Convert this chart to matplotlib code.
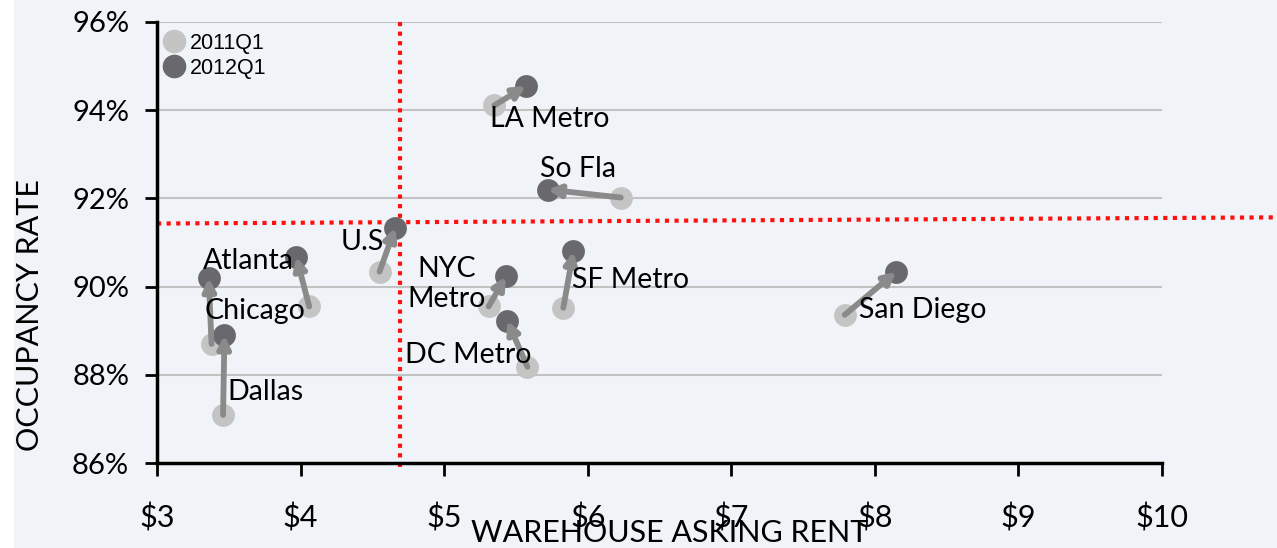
import matplotlib
matplotlib.use("Agg")
import matplotlib.pyplot as plt
from matplotlib.patches import Rectangle

# Warehouse market data: asking rent ($/sq ft) and occupancy (%)
markets = ["LA Metro", "So Fla", "U.S", "Atlanta", "Chicago", "Dallas",
           "NYC\nMetro", "DC Metro", "SF Metro", "San Diego"]
rent_2011 = [5.35, 6.23, 4.55, 3.38, 4.06, 3.46, 5.31, 5.58, 5.83, 7.79]
occ_2011 = [94.11, 92.02, 90.34, 88.70, 89.55, 87.09, 89.55, 88.18, 89.52, 89.36]
rent_2012 = [5.57, 5.72, 4.66, 3.36, 3.97, 3.47, 5.43, 5.44, 5.90, 8.15]
occ_2012 = [94.55, 92.20, 91.34, 90.20, 90.68, 88.90, 90.23, 89.23, 90.80, 90.34]

# Label anchor for each market (x, y, horizontal alignment)
label_pos = [(5.32, 93.80, "left"), (5.67, 92.66, "left"), (4.28, 91.00, "left"),
             (3.32, 90.57, "left"), (3.33, 89.45, "left"), (3.49, 87.61, "left"),
             (5.02, 90.05, "center"), (4.73, 88.45, "left"), (5.89, 90.14, "left"),
             (7.89, 89.48, "left")]

x_ticks = [3, 4, 5, 6, 7, 8, 9, 10]
x_tick_labels = ["$3", "$4", "$5", "$6", "$7", "$8", "$9", "$10"]
y_ticks = [86, 88, 90, 92, 94, 96]
y_tick_labels = ["86%", "88%", "90%", "92%", "94%", "96%"]

# Reference lines: average rent and occupancy
avg_rent = 4.69
avg_occ_start, avg_occ_end = 91.43, 91.57

BG = "#F0F4F8"
LIGHT = "#C4C4C4"
DARK = "#69696D"
ARROW = "#8A8A8A"
FONT = ["Lato", "DejaVu Sans"]

fig = plt.figure(figsize=(12.77, 5.48), dpi=100, facecolor=BG)
fig.patches.append(Rectangle((0, 0), 14 / 1277, 1, transform=fig.transFigure,
                             facecolor="white", edgecolor="none", zorder=0))
ax = fig.add_axes([157 / 1277, 85 / 548, (1162 - 157) / 1277, (463 - 22) / 548])
ax.set_facecolor(BG)

ax.set_xlim(3, 10)
ax.set_ylim(86, 96)

for yv in y_ticks[1:]:
    ax.axhline(yv, color="#C2C2C2", lw=1.5, zorder=1)

ax.scatter(rent_2011, occ_2011, s=270, color=LIGHT, zorder=3, linewidths=0)
ax.scatter(rent_2012, occ_2012, s=270, color=DARK, zorder=3, linewidths=0)

for x0, y0, x1, y1 in zip(rent_2011, occ_2011, rent_2012, occ_2012):
    ax.annotate("", xy=(x1, y1), xytext=(x0, y0),
                arrowprops=dict(arrowstyle="-|>", color=ARROW, lw=4.2,
                                mutation_scale=18, shrinkA=0, shrinkB=0),
                zorder=4)

for name, (lx, ly, ha) in zip(markets, label_pos):
    ax.text(lx, ly, name, ha=ha, va="center", fontsize=20.5, family=FONT,
            multialignment="center", linespacing=1.2, zorder=5)

ax.plot([avg_rent, avg_rent], [96, 85.83], color="#FF1010", ls=(0, (1, 1.3)),
        lw=3, clip_on=False, zorder=2)
ax.plot([3.0, 10.8], [avg_occ_start, avg_occ_end], color="#FF1010",
        ls=(0, (1, 1.3)), lw=3, clip_on=False, zorder=2)

# Legend
ax.scatter([3.12], [95.58], s=290, color=LIGHT, linewidths=0, zorder=3)
ax.scatter([3.12], [95.0], s=290, color=DARK, linewidths=0, zorder=3)
ax.text(3.23, 95.52, "2011Q1", fontsize=15.5, va="center", family=["Liberation Sans"])
ax.text(3.23, 94.94, "2012Q1", fontsize=15.5, va="center", family=["Liberation Sans"])

for side in ("top", "right"):
    ax.spines[side].set_visible(False)
for side in ("left", "bottom"):
    ax.spines[side].set_linewidth(2.5)
    ax.spines[side].set_color("black")

ax.set_xticks(x_ticks)
ax.set_xticklabels(x_tick_labels, family=FONT, fontsize=22)
ax.set_yticks(y_ticks)
ax.set_yticklabels(y_tick_labels, family=FONT, fontsize=21)
ax.tick_params(axis="both", direction="out", length=9, width=2, color="black")
ax.tick_params(axis="y", pad=11)
ax.tick_params(axis="x", pad=20)

fig.text(670 / 1277, 15 / 548, "WAREHOUSE ASKING RENT", ha="center", va="center",
         fontsize=22, family=FONT)
fig.text(30 / 1277, (548 - 315) / 548, "OCCUPANCY RATE", rotation=90,
         ha="center", va="center", fontsize=22, family=FONT)

fig.savefig("out.png", dpi=100, facecolor=BG)
